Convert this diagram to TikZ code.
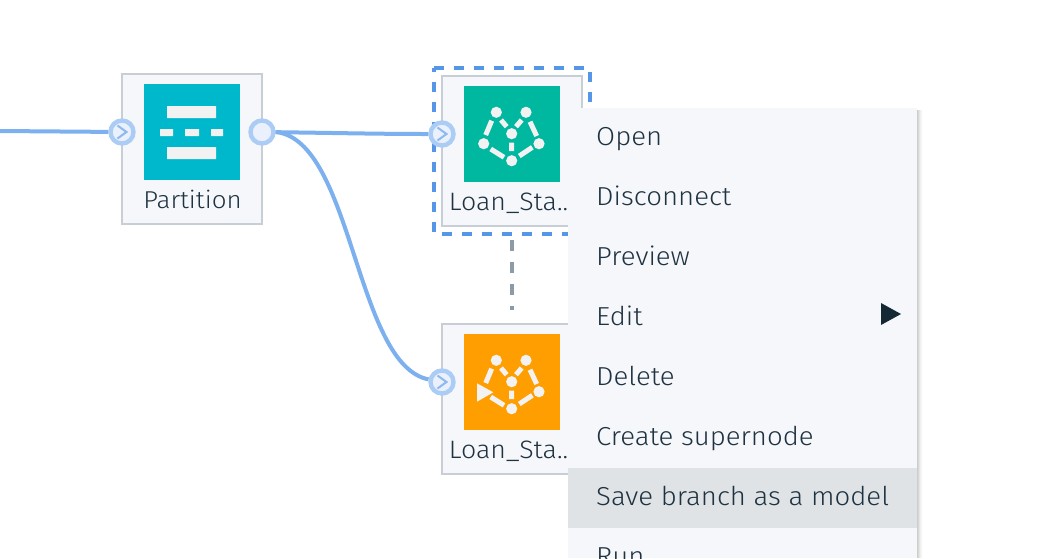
\documentclass[tikz,border=0pt]{standalone}
\usepackage{fontspec}
\setmainfont[FakeStretch=1.06]{Fira Sans Light}
\usetikzlibrary{calc}
\definecolor{link}{HTML}{7DB0EE}
\definecolor{chevron}{HTML}{8DB9F0}
\definecolor{portring}{HTML}{ABCCF5}
\definecolor{portfill}{HTML}{EAF1FC}
\definecolor{boxline}{HTML}{C7CED6}
\definecolor{boxfill}{HTML}{F5F7FB}
\definecolor{sel}{HTML}{5596E6}
\definecolor{assoc}{HTML}{8C9BA5}
\definecolor{ink}{HTML}{1F3240}
\definecolor{arrowink}{HTML}{152935}
\definecolor{teal}{HTML}{00B8CC}
\definecolor{green}{HTML}{00B8A0}
\definecolor{orange2}{HTML}{FF9E00}
\definecolor{hl}{HTML}{DFE3E6}
\definecolor{glyph}{HTML}{F2F2F2}
\tikzset{
 x=1pt,y=-1pt,
 nodebox/.style={draw=boxline,fill=boxfill,line width=2pt,minimum width=140pt,minimum height=150pt,inner sep=0pt,outer sep=0pt},
 iconbox/.style={fill=#1,minimum size=96pt,inner sep=0pt,outer sep=0pt},
 lbl/.style={text=ink,font=\fontsize{#1}{#1}\selectfont,inner sep=0pt,anchor=base},
 menuitem/.style={text=ink,font=\fontsize{26}{26}\selectfont,inner sep=0pt,anchor=base west},
 port/.style={circle,draw=portring,fill=portfill,line width=4.4pt,minimum size=23pt,inner sep=0pt,outer sep=2.2pt},
 wire/.style={draw=link,line width=4pt},
 dot/.style={fill=glyph,draw=none},
 lk/.style={draw=glyph,line width=5pt},
}
\newcommand{\chev}[1]{\draw[draw=chevron,line width=2pt] ($(#1)+(-4.5,-6.5)$) -- ($(#1)+(4.5,0)$) -- ($(#1)+(-4.5,6.5)$);}
\newcommand{\graphlinks}[1]{
 \begin{scope}[shift={(#1)}]
 \fill[dot] (-15.4,-21.4) circle (5.6) (14.3,-21.4) circle (5.6) (0,0) circle (5.6) (0,27) circle (5.6) (27.3,10) circle (5.6);
 \draw[lk] (-20,-13) -- (-26,1.3) (-10.7,-13.7) -- (-5,-7) (10,-13.7) -- (4.3,-7) (18.3,-12) -- (25,2.3) (0,9) -- (0,17.3) (-21,15.3) -- (-7.7,23.6) (20.6,13.6) -- (7.6,22.3);
 \end{scope}}
\begin{document}
\begin{tikzpicture}
\useasboundingbox (0,0) rectangle (1040,558);
\fill[white] (0,0) rectangle (1040,558);
% nodes
\node[nodebox] (part) at (192,149) {};
\node[iconbox=teal] (parti) at (192,132) {};
\node[lbl=24.4] (partl) at (192.5,208) {Partition};
\fill[glyph] (167,106) rectangle (216,118) (167,147) rectangle (216,159) (160,129) rectangle (173,136) (185,129) rectangle (199,136) (211,129) rectangle (223,136);
\node[nodebox] (loan) at (512,151) {};
\node[iconbox=green] (loani) at (512,134) {};
\node[lbl=25.2] (loanl) at (508.5,210) {Loan\_Sta..};
\graphlinks{511.7,133.7}
\fill[dot] (483.7,143.7) circle (5.6);
\node[nodebox] (app) at (512,399) {};
\node[iconbox=orange2] (appi) at (512,382) {};
\node[lbl=25.2] (appl) at (508.5,458) {Loan\_Sta..};
\graphlinks{511.7,381.7}
\fill[glyph] (477,383.3) -- (493.3,392.3) -- (477,401.7) -- cycle;
% selection
\node[minimum width=156pt,minimum height=166pt,inner sep=0pt,outer sep=0pt] (selbox) at (512,151) {};
\draw[draw=sel,line width=4pt,dash pattern=on 10pt off 10pt] (selbox.north west) -- (selbox.north east) -- (selbox.south east) -- (selbox.south west) -- cycle;
% ports and wires
\coordinate (start) at (0,131);
\node[port] (p1) at (122,132) {};
\node[port] (p2) at (262,132) {};
\node[port] (p3) at (442,134) {};
\node[port] (p4) at (442,382) {};
\draw[wire] (start) -- (p1);
\draw[wire] (p2) .. controls (340,133) and (380,134) .. (p3);
\draw[wire] (p2.east) .. controls (353,140) and (355,365) .. (p4);
\chev{p1}\chev{p3}\chev{p4}
% association
\coordinate (assocend) at (512,310);
\draw[draw=assoc,line width=4pt,dash pattern=on 11pt off 11pt,dash phase=16pt] (selbox.south -| loan) -- (assocend);
% menu
\foreach \i/\o in {1/0.05,2/0.05,3/0.04,4/0.03,5/0.02,6/0.01}
  \fill[black,opacity=\o] (917,110) rectangle (917+\i,558);
\fill[boxfill] (568,108) rectangle (917,558);
\fill[hl] (568,468) rectangle (917,528);
\node[menuitem] (m1) at (596,145) {Open};
\node[menuitem] (m2) at (596,205) {Disconnect};
\node[menuitem] (m3) at (596,265) {Preview};
\node[menuitem] (m4) at (596,325) {Edit};
\node[menuitem] (m5) at (596,385) {Delete};
\node[menuitem] (m6) at (596,445) {Create supernode};
\node[menuitem] (m7) at (596,505) {Save branch as a model};
\node[menuitem] (m8) at (596,565) {Run};
\fill[arrowink] (881,303) -- (901,314) -- (881,325) -- cycle;
\end{tikzpicture}
\end{document}
